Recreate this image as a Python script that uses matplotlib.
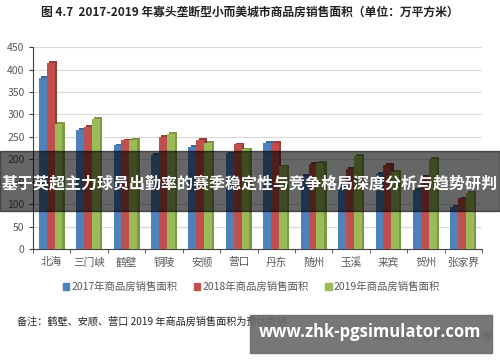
import numpy as np
import matplotlib
matplotlib.use("Agg")
import matplotlib.pyplot as plt
from matplotlib.patches import Patch, Rectangle

plt.rcParams['font.family'] = ['Noto Sans CJK SC', 'DejaVu Sans']

cities = ['北海', '三门峡', '鹤壁', '铜陵', '安顺', '营口', '丹东', '随州', '玉溪', '来宾', '贺州', '张家界']
area_2017 = [381, 266, 231, 209, 227, 213, 237, 163, 140, 167, 131, 94]
area_2018 = [414, 272, 242, 250, 244, 233, 237, 189, 179, 187, 162, 113]
area_2019 = [279, 290, 244, 256, 236, 222, 184, 192, 207, 172, 201, 125]
series_names = ['2017年商品房销售面积', '2018年商品房销售面积', '2019年商品房销售面积']
yticks = [0, 50, 100, 150, 200, 250, 300, 350, 400, 450]

colors = ['#4F81BD', '#C0504D', '#9BBB59']
side_colors = ['#3A6698', '#9A3D3A', '#7C9A45']

fig = plt.figure(figsize=(5, 3.62), dpi=100)
ax = fig.add_axes([0.066, 0.312, 0.898, 0.558])

x = np.arange(len(cities))
w = 0.21
for i, vals in enumerate([area_2017, area_2018, area_2019]):
    pos = x + (i - 1) * w - 0.03
    # darker side face gives the 3-D look
    ax.bar(pos + w * 0.3, np.array(vals) + 4, width=w, color=side_colors[i], zorder=2 + i * 2)
    ax.bar(pos, vals, width=w, color=colors[i], zorder=3 + i * 2)

ax.set_xlim(-0.5, len(cities) - 0.5)
ax.set_ylim(0, 450)
ax.set_yticks(yticks)
ax.set_xticks(x)
ax.set_xticklabels(cities, fontsize=7.7, color='#595959')
ax.set_xticks(np.arange(-0.5, len(cities), 1), minor=True)
ax.tick_params(axis='x', which='major', length=0, pad=6)
ax.tick_params(axis='x', which='minor', length=3, color='#404040', direction='out')
ax.tick_params(axis='y', labelsize=7.5, labelcolor='#595959', length=3, color='#404040', pad=3)
ax.yaxis.grid(True, color='#d9d9d9', lw=0.8, zorder=0)
ax.set_axisbelow(True)
for s in ['top', 'right']:
    ax.spines[s].set_visible(False)
ax.spines['left'].set_color('#404040')
ax.spines['bottom'].set_color('#404040')

fig.text(0.5, 0.966, '图 4.7  2017-2019 年寡头垄断型小而美城市商品房销售面积（单位：万平方米）',
         ha='center', va='center', fontsize=8.5, fontweight='bold', color='#222222')

handles = [Patch(color=c) for c in colors]
fig.legend(handles, series_names, loc='center', bbox_to_anchor=(0.503, 0.207), ncol=3,
           frameon=False, fontsize=7.5, handlelength=0.6, handleheight=0.6,
           handletextpad=0.2, columnspacing=1.6, labelcolor='#595959')

fig.text(0.034, 0.111, '备注：鹤壁、安顺、营口 2019 年商品房销售面积为预估数据',
         ha='left', va='center', fontsize=7.3, color='#222222')
fig.text(0.986, 0.07, '数据来源：各城市统计公报',
         ha='right', va='center', fontsize=7.2, color='#222222')

# watermark overlays
fig.patches.append(Rectangle((0, 1 - 210.7 / 362), 1, 60 / 362, transform=fig.transFigure,
                             color='black', alpha=0.6, zorder=20))
fig.text(0.5, 1 - 184 / 362, '基于英超主力球员出勤率的赛季稳定性与竞争格局深度分析与趋势研判',
         ha='center', va='center', fontsize=11.5, fontweight='bold', color='white', zorder=21)
fig.patches.append(Rectangle((0.5, 1 - 353 / 362), 0.484, 38 / 362, transform=fig.transFigure,
                             color='#6b6b6b', alpha=0.92, zorder=20))
fig.text(0.74, 1 - 332 / 362, 'www.zhk-pgsimulator.com', family='Open Sans',
         ha='center', va='center', fontsize=12, fontweight='bold', color='white', zorder=21)

fig.savefig('out.png', dpi=100)
